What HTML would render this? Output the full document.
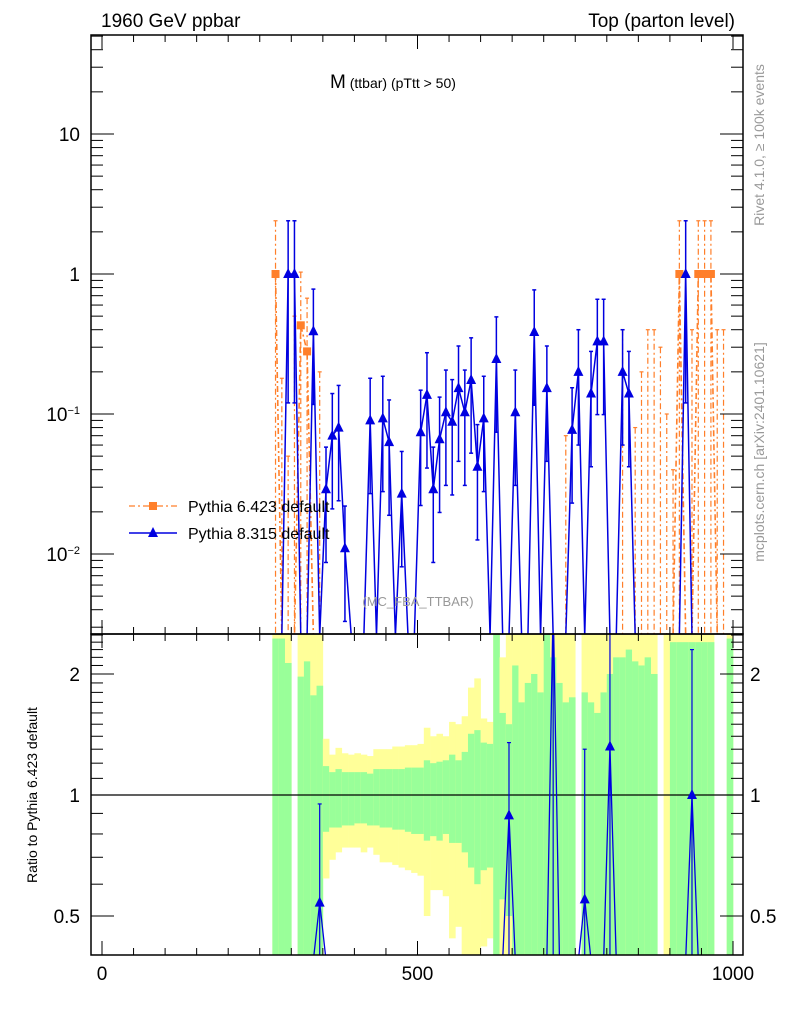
<!DOCTYPE html>
<html><head><meta charset="utf-8">
<style>
body{margin:0;background:#fff;}
svg{display:block;font-family:"Liberation Sans",sans-serif;}
</style></head>
<body>
<svg id="chart" width="786" height="1024" viewBox="0 0 786 1024" xmlns="http://www.w3.org/2000/svg">
<defs>
<clipPath id="cm"><rect x="91" y="35" width="652" height="599"/></clipPath>
<clipPath id="cr"><rect x="91" y="634" width="652" height="321"/></clipPath>
</defs>
<g id="bands" clip-path="url(#cr)"></g>
<g id="main" clip-path="url(#cm)"></g>
<g id="ratio" clip-path="url(#cr)"></g>
<g id="axes"></g>
<text x="101" y="27" font-size="19">1960 GeV ppbar</text>
<text x="735" y="27" font-size="19" text-anchor="end">Top (parton level)</text>
<text x="330" y="88" font-size="19">M<tspan font-size="14"> (ttbar) (pTtt &gt; 50)</tspan></text>
<text x="418" y="606" font-size="13" fill="#999" text-anchor="middle">(MC_FBA_TTBAR)</text>
<text transform="translate(764,145) rotate(-90)" font-size="14" fill="#999" text-anchor="middle">Rivet 4.1.0, ≥ 100k events</text>
<text transform="translate(764,452) rotate(-90)" font-size="14" fill="#999" text-anchor="middle">mcplots.cern.ch [arXiv:2401.10621]</text>
<text transform="translate(37,795) rotate(-90)" font-size="14" text-anchor="middle">Ratio to Pythia 6.423 default</text>
<g>
<g>
<line x1="129" y1="506" x2="177" y2="506" stroke="#ff7f2a" stroke-width="1.3" stroke-dasharray="6,3,2,3"/>
<rect x="149" y="502" width="8" height="8" fill="#ff7f2a"/>
<text x="188" y="512" font-size="16">Pythia 6.423 default</text></g>
<g>
<line x1="129" y1="533" x2="177" y2="533" stroke="#0000e0" stroke-width="1.5"/>
<path d="M153,527 L158,537 L148,537 Z" fill="#0000e0"/>
<text x="188" y="539" font-size="16">Pythia 8.315 default</text></g>
</g>
</svg>
<script>
// Bins: 10 GeV wide, centres 275..995
const binCenters = Array.from({length:73},(_,k)=>275+10*k);
const orangeIdx = [0,4,5,64,67,68,69];
const orangeVal = [1,0.43,0.28,1,1,1,1];
const orangeErrIdx = [1,2,3,7,46,55,57,58,59,60,61,62,63,66,70,71];
const orangeErrHi = [0.18,0.05,0.5,0.2,0.07,0.4,0.08,0.2,0.4,0.4,0.3,0.1,0.04,0.4,0.4,0.4];
const blueIdx = [2,3,6,8,9,10,11,15,17,18,20,23,24,25,26,27,28,29,30,31,32,33,35,38,41,43,47,48,50,51,52,55,56,65];
const blueVal = [1,1,0.39,0.029,0.07,0.08,0.011,0.09,0.093,0.063,0.027,0.074,0.137,0.029,0.066,0.103,0.088,0.153,0.103,0.175,0.042,0.093,0.247,0.103,0.385,0.153,0.077,0.2,0.14,0.33,0.33,0.2,0.14,1];
const ratioIdx = [7,37,44,49,53,66];
const ratioVal = [0.54,0.89,3.0,0.55,1.32,1.0];
const ratioErrHi = [0.95,1.35,3,1.3,3,2.3];
const gHi=[2.45,2.45,2.13,null,1.97,2.15,1.77,1.87,1.18,1.14,1.16,1.14,1.14,1.14,1.14,1.13,1.16,1.16,1.16,1.16,1.16,1.17,1.17,1.17,1.22,1.20,1.21,1.22,1.26,1.22,1.28,1.42,1.45,1.35,1.34,3,1.6,1.5,2.1,1.7,1.9,2.0,1.8,3,2.2,1.9,1.7,1.75,null,1.8,1.7,1.6,1.8,2.0,2.2,2.2,2.3,2.15,2.1,2.2,2.0,null,null,2.4,2.4,2.4,2.4,2.4,2.4,2.4,null,null,2.45];
const gLo=[0.3,0.3,0.3,null,0.3,0.3,0.3,0.3,0.81,0.83,0.83,0.84,0.84,0.85,0.85,0.84,0.84,0.83,0.83,0.82,0.82,0.81,0.80,0.80,0.77,0.79,0.77,0.80,0.76,0.76,0.72,0.66,0.60,0.65,0.66,0.3,0.55,0.5,0.3,0.3,0.3,0.3,0.3,0.3,0.3,0.3,0.3,0.3,null,0.3,0.3,0.3,0.3,0.3,0.3,0.3,0.3,0.3,0.3,0.3,0.3,null,null,0.3,0.3,0.3,0.3,0.3,0.3,0.3,null,null,0.3];
const yHi=[3,3,3,null,3,3,3,3,1.38,1.26,1.31,1.27,1.26,1.27,1.26,1.25,1.30,1.30,1.30,1.32,1.32,1.33,1.33,1.34,1.47,1.40,1.42,1.40,1.52,1.50,1.57,1.85,1.95,1.55,1.52,3,2.2,2.5,3,3,3,3,3,3,3,3,2.6,2.8,null,3,3,3,3,3,3,3,3,3,3,3,3,null,3,3,3,3,3,3,3,3,null,null,3];
const yLo=[0.3,0.3,0.3,null,0.3,0.3,0.3,0.3,0.62,0.69,0.72,0.74,0.74,0.74,0.72,0.74,0.71,0.68,0.68,0.67,0.66,0.65,0.64,0.63,0.50,0.58,0.58,0.56,0.44,0.47,0.40,0.40,0.40,0.42,0.44,0.3,0.3,0.3,0.3,0.3,0.3,0.3,0.3,0.3,0.3,0.3,0.3,0.3,null,0.3,0.3,0.3,0.3,0.3,0.3,0.3,0.3,0.3,0.3,0.3,0.3,null,0.3,0.3,0.3,0.3,0.3,0.3,0.3,0.3,null,null,0.3];
const xTicks=[0,500,1000];
const yMainTicks=[10,1,0.1,0.01];
const yMainLabels=["10","1","10<tspan dy='-7' font-size='11'>−1</tspan>","10<tspan dy='-7' font-size='11'>−2</tspan>"];
const yRatioTicks=[2,1,0.5];

const NS="http://www.w3.org/2000/svg";
const L=91,R=743,T=35,MB=634,RB=955;
const X=v=>102+0.631*v;
const Y=v=>v<=0?MB+2:274-140*Math.log10(v);
const YR=v=>v<=0?RB+5:795-402*Math.log10(v);
function mk(p,tag,attrs){const e=document.createElementNS(NS,tag);for(const k in attrs)e.setAttribute(k,attrs[k]);p.appendChild(e);return e;}
const bands=document.getElementById('bands'),main=document.getElementById('main'),ratio=document.getElementById('ratio'),axes=document.getElementById('axes');

binCenters.forEach((c,k)=>{
  const x0=X(c-5),w=X(c+5)-x0+0.3;
  if(yHi[k]!==null){const r=mk(bands,'rect',{x:x0,y:YR(yHi[k]),width:w,height:YR(yLo[k])-YR(yHi[k]),fill:'#ffff99'});
    
    }
  if(gHi[k]!==null){const r=mk(bands,'rect',{x:x0,y:YR(gHi[k]),width:w,height:YR(gLo[k])-YR(gHi[k]),fill:'#99ff99'});
    
    }
});

const orange=binCenters.map(()=>0), blue=binCenters.map(()=>0);
orangeIdx.forEach((k,i)=>orange[k]=orangeVal[i]);
blueIdx.forEach((k,i)=>blue[k]=blueVal[i]);

orangeIdx.forEach((k,i)=>{
  const x=X(binCenters[k]),v=orangeVal[i];
  const e=mk(main,'line',{x1:x,x2:x,y1:Y(v*2.4),y2:MB,stroke:'#ff7f2a','stroke-width':1.2,'stroke-dasharray':'6,3,2,3'});
  
  
  mk(main,'line',{x1:x-2,x2:x+2,y1:Y(v*2.4),y2:Y(v*2.4),stroke:'#ff7f2a','stroke-width':1.2});
});
orangeErrIdx.forEach((k,i)=>{
  const x=X(binCenters[k]);
  const e=mk(main,'line',{x1:x,x2:x,y1:Y(orangeErrHi[i]),y2:MB,stroke:'#ff7f2a','stroke-width':1.2,'stroke-dasharray':'6,3,2,3'});
  
  
  mk(main,'line',{x1:x-2,x2:x+2,y1:Y(orangeErrHi[i]),y2:Y(orangeErrHi[i]),stroke:'#ff7f2a','stroke-width':1.2});
});
const op=mk(main,'polyline',{points:binCenters.map((c,k)=>X(c)+','+Y(orange[k])).join(' '),fill:'none',stroke:'#ff7f2a','stroke-width':1.6,'stroke-dasharray':'6,3,2,3'});


orangeIdx.forEach((k,i)=>{
  const s=mk(main,'rect',{x:X(binCenters[k])-4,y:Y(orangeVal[i])-4,width:8,height:8,fill:'#ff7f2a'});
  
  
});

blueIdx.forEach((k,i)=>{
  const x=X(binCenters[k]),v=blueVal[i];
  const hi=v>=0.9?v*2.4:v*2.0, lo=v>=0.9?v*0.12:v*0.3;
  const e=mk(main,'line',{x1:x,x2:x,y1:Y(hi),y2:Y(lo),stroke:'#0000e0','stroke-width':1.5});
  
  
  mk(main,'line',{x1:x-2,x2:x+2,y1:Y(hi),y2:Y(hi),stroke:'#0000e0','stroke-width':1.5});
  mk(main,'line',{x1:x-2,x2:x+2,y1:Y(lo),y2:Y(lo),stroke:'#0000e0','stroke-width':1.5});
});
const bp=mk(main,'polyline',{points:binCenters.map((c,k)=>X(c)+','+Y(blue[k])).join(' '),fill:'none',stroke:'#0000e0','stroke-width':1.5});


blueIdx.forEach((k,i)=>{
  const x=X(binCenters[k]),y=Y(blueVal[i]);
  const t=mk(main,'path',{d:`M${x},${y-6} L${x+5},${y+4} L${x-5},${y+4} Z`,fill:'#0000e0'});
  
  
});

mk(ratio,'line',{x1:L,x2:R,y1:YR(1),y2:YR(1),stroke:'#000','stroke-width':1.2});
ratioIdx.forEach((k,i)=>{
  const x=X(binCenters[k]),y=YR(ratioVal[i]);
  const pl=mk(ratio,'polyline',{points:`${X(binCenters[k-1])},${RB+5} ${x},${y} ${X(binCenters[k+1])},${RB+5}`,fill:'none',stroke:'#0000e0','stroke-width':1.3});
  
  
  mk(ratio,'line',{x1:x,x2:x,y1:YR(ratioErrHi[i]),y2:RB,stroke:'#0000e0','stroke-width':1.2});
  mk(ratio,'line',{x1:x-2,x2:x+2,y1:YR(ratioErrHi[i]),y2:YR(ratioErrHi[i]),stroke:'#0000e0','stroke-width':1.2});
  const t=mk(ratio,'path',{d:`M${x},${y-6} L${x+5},${y+4} L${x-5},${y+4} Z`,fill:'#0000e0'});
  
  
});

[[T,MB],[MB,RB]].forEach(([a,b])=>mk(axes,'rect',{x:L,y:a,width:R-L,height:b-a,fill:'none',stroke:'#000','stroke-width':1.5}));
for(let v=0;v<=1000;v+=50){
  const x=X(v),len=v%500===0?14:7;
  [[T,1],[MB,-1],[MB,1],[RB,-1]].forEach(([y0,d])=>mk(axes,'line',{x1:x,x2:x,y1:y0,y2:y0+d*len,stroke:'#000','stroke-width':1}));
}
xTicks.forEach(v=>{const t=mk(axes,'text',{x:X(v),y:980,'font-size':19,'text-anchor':'middle'});t.textContent=v;
  
  });
for(let d=-3;d<=1;d++){for(let m=1;m<10;m++){const v=m*Math.pow(10,d);const y=Y(v);if(y<T||y>MB)continue;const len=m===1?23:12;
  mk(axes,'line',{x1:L,x2:L+len,y1:y,y2:y,stroke:'#000','stroke-width':1});
  mk(axes,'line',{x1:R,x2:R-len,y1:y,y2:y,stroke:'#000','stroke-width':1});}}
yMainTicks.forEach((v,i)=>{const t=mk(axes,'text',{x:80,y:Y(v)+7,'font-size':19,'text-anchor':'end'});t.innerHTML=yMainLabels[i];
  
  });
[0.4,0.5,0.6,0.7,0.8,0.9,1,1.1,1.2,1.3,1.4,1.5,1.6,1.7,1.8,1.9,2,2.1,2.2,2.3,2.4,2.5].forEach(v=>{
  const y=YR(v);if(y<MB||y>RB)return;const len=(v===0.5||v===1||v===2)?23:12;
  mk(axes,'line',{x1:L,x2:L+len,y1:y,y2:y,stroke:'#000','stroke-width':1});
  mk(axes,'line',{x1:R,x2:R-len,y1:y,y2:y,stroke:'#000','stroke-width':1});});
yRatioTicks.forEach(v=>{
  const t=mk(axes,'text',{x:80,y:YR(v)+7,'font-size':19,'text-anchor':'end'});t.textContent=v;
  
  
  const t2=mk(axes,'text',{x:750,y:YR(v)+7,'font-size':19});t2.textContent=v;
  
  });
</script>
</body></html>
